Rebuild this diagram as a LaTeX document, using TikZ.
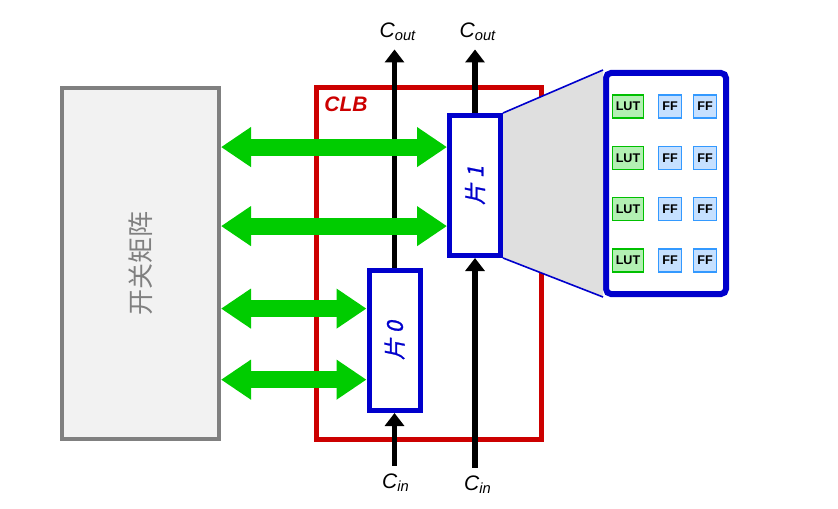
\documentclass[tikz,border=0pt]{standalone}
\usepackage{fontspec}
\setmainfont{Liberation Sans}
\newfontfamily\cjk{Noto Sans CJK SC}
\newfontfamily\cjkslant[FakeSlant=0.2,FakeBold=1]{Noto Sans CJK SC}
\usetikzlibrary{positioning,arrows.meta,calc}
\definecolor{clbred}{HTML}{CC0000}
\definecolor{sliceblue}{HTML}{0000CC}
\definecolor{busgreen}{HTML}{00CC00}
\definecolor{lutfill}{HTML}{B3F0B3}
\definecolor{lutline}{HTML}{00C000}
\definecolor{fffill}{HTML}{C6E0FF}
\definecolor{ffline}{HTML}{3399FF}

\begin{document}
\begin{tikzpicture}[x=0.5pt,y=-0.5pt,
  swbox/.style={draw=gray,fill=gray!10,line width=2pt,minimum width=78.5pt,minimum height=175.5pt},
  clbbox/.style={draw=clbred,line width=2.5pt,minimum width=112.5pt,minimum height=176pt},
  slice/.style={draw=sliceblue,fill=white,line width=2.5pt,minimum width=25.5pt,minimum height=70pt,inner sep=0pt},
  zoombox/.style={draw=sliceblue,fill=white,line width=3pt,rounded corners=2.5pt,minimum width=60pt,minimum height=110.5pt},
  lut/.style={draw=lutline,fill=lutfill,line width=0.8pt,minimum width=15.5pt,minimum height=11.5pt,inner sep=0pt,font=\fontsize{6.3}{7}\selectfont\bfseries},
  ff/.style={lut,draw=ffline,fill=fffill,minimum width=11.5pt},
  carry label/.style={inner sep=4pt,font=\fontsize{10.5}{12}\selectfont\itshape},
  carry/.style={line width=2.75pt,-{Triangle[length=6.5pt,width=9.5pt]}},
  bus/.style={busgreen,line width=8.5pt,{Triangle[length=15pt,width=19pt]}-{Triangle[length=15pt,width=19pt]}}]
  \useasboundingbox (0,0) rectangle (838,508);

  % CLB and switch matrix
  \node[clbbox] (clb) at (429,263.5) {};
  \node[text=clbred,font=\fontsize{10.5}{12}\selectfont\bfseries\itshape] (clbtext) at (346,104) {CLB};
  \node[swbox] (sw) at (140.5,263.5) {};
  \node[rotate=90,text=gray,font=\cjk\fontsize{13}{15}\selectfont] (swtext) at (sw) {开关矩阵};

  % slices
  \node[slice] (s1) at (475,185.5) {};
  \node[slice] (s0) at (394.5,340.5) {};
  \node[rotate=90,text=sliceblue,font=\cjkslant\fontsize{11}{13}\selectfont] (s1text) at (s1) {片 1};
  \node[rotate=90,text=sliceblue,font=\cjkslant\fontsize{11}{13}\selectfont] (s0text) at (s0) {片 0};

  % zoomed view of slice 1
  \node[zoombox] (zoom) at (666,183.5) {};
  \fill[gray!25] (s1.north east) -- (zoom.north west) -- (zoom.south west) -- (s1.south east) -- cycle;
  \draw[sliceblue,line width=0.8pt] (s1.north east) -- (zoom.north west) (s1.south east) -- (zoom.south west);
  \foreach \r in {0,...,3} {
    \node[lut] (lut\r) at (628,106.5+51.3*\r) {LUT};
    \node[ff] (ffa\r) [right of=lut\r,node distance=21pt] {FF};
    \node[ff] (ffb\r) [right of=ffa\r,node distance=17.5pt] {FF};
  }

  % carry chain
  \node[carry label] (cout0) at (398,32) {C\textsubscript{out}};
  \node[carry label] (cout1) at (478,32) {C\textsubscript{out}};
  \node[carry label] (cin0) at (396,483) {C\textsubscript{in}};
  \node[carry label] (cin1) at (478,485) {C\textsubscript{in}};
  \draw[carry] (s0.north) -- (s0.north |- cout0.south);
  \draw[carry] (s1.north) -- (s1.north |- cout1.south);
  \draw[carry] (s0.south |- cin0.north) -- (s0.south);
  \draw[carry] (s1.south |- cin1.north) -- (s1.south);

  % routing between switch matrix and slices
  \foreach \s/\f/\n in {s1/0.235/a, s1/0.78/b, s0/0.28/c, s0/0.77/d} {
    \coordinate (bus\n) at ($(\s.north west)!\f!(\s.south west)$);
    \draw[bus] (sw.east |- bus\n) -- (bus\n);
  }
\end{tikzpicture}
\end{document}
